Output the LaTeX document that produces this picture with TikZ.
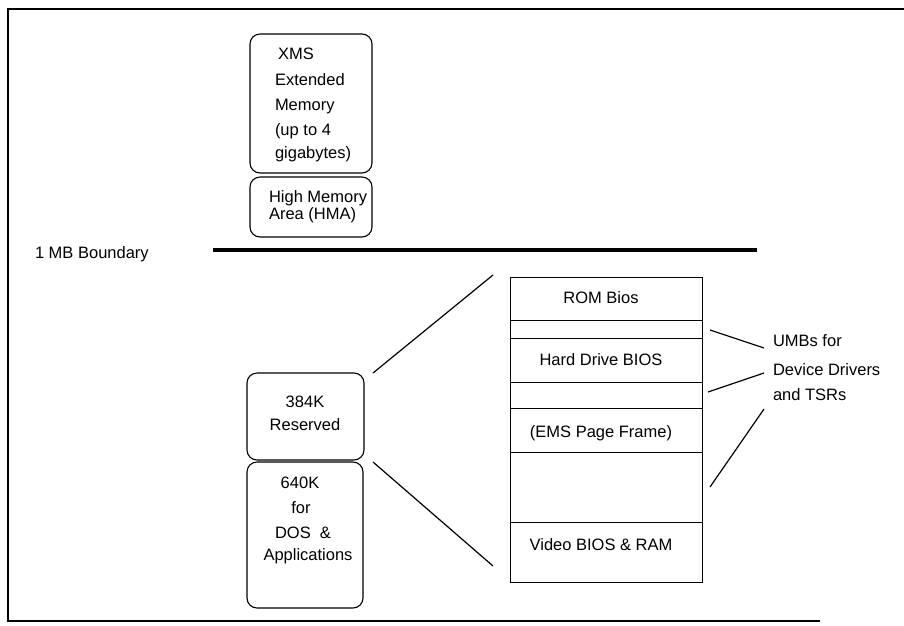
\documentclass[tikz,border=0pt]{standalone}
\usepackage{fontspec}
\setmainfont{Liberation Sans}
\begin{document}
\begin{tikzpicture}[x=1pt,y=-1pt,
  font=\fontsize{16.5}{19}\selectfont,
  rbox/.style={draw, rounded corners=10pt, line width=1.1pt, inner sep=0pt, outer sep=0pt},
  memrow/.style={draw, line width=1pt, minimum width=192pt, inner sep=0pt, outer sep=0pt},
  lbl/.style={inner sep=0pt, outer sep=0pt},
  conn/.style={line width=1.2pt},
  frameline/.style={line width=1.6pt}]
\useasboundingbox (0,0) rectangle (904,625);

% frame (open on the right)
\coordinate (f1) at (904,9);
\coordinate (f2) at (8,9);
\coordinate (f3) at (8,621);
\coordinate (f4) at (820,621);
\draw[frameline] (f1) -- (f2) -- (f3) -- (f4);

% extended memory boxes
\node[rbox, minimum width=122pt, minimum height=139pt] (xms) at (311,103.5) {};
\node[rbox, minimum width=122pt, minimum height=60pt] (hma) at (311,207) {};
\node[lbl, anchor=base west] (t1) at (278,59) {XMS};
\node[lbl, anchor=base west] (t2) at (275,85) {Extended};
\node[lbl, anchor=base west] (t3) at (275,110) {Memory};
\node[lbl, anchor=base west] (t4) at (275,135) {(up to 4};
\node[lbl, anchor=base west] (t5) at (275,158) {gigabytes)};
\node[lbl, anchor=base west] (t6) at (269,202) {High Memory};
\node[lbl, anchor=base west] (t7) at (269,219) {Area (HMA)};

% 1 MB boundary
\node[lbl, anchor=base west] (mb) at (35,258) {1 MB Boundary};
\coordinate (b1) at (213,250);
\coordinate (b2) at (757,250);
\draw[line width=3.5pt] (b1) -- (b2);

% conventional memory boxes
\node[rbox, minimum width=117pt, minimum height=87pt] (res) at (305.5,416.5) {};
\node[rbox, minimum width=116pt, minimum height=146pt] (dos) at (305,535) {};
\node[lbl, anchor=base] (r1) at (305,407) {384K};
\node[lbl, anchor=base] (r2) at (305,430) {Reserved};
\node[lbl, anchor=base] (d1) at (300,488) {640K};
\node[lbl, anchor=base] (d2) at (301,513) {for};
\node[lbl, anchor=base] (d3) at (303,538) {DOS\ \ \&};
\node[lbl, anchor=base] (d4) at (308,560) {Applications};

% upper memory stack
\node[memrow, minimum height=43pt] (rom) at (606,298.5) {};
\node[memrow, minimum height=18pt] (u1) at (606,329) {};
\node[memrow, minimum height=44pt] (hd) at (606,360) {};
\node[memrow, minimum height=26pt] (u2) at (606,395) {};
\node[memrow, minimum height=44pt] (ems) at (606,430) {};
\node[memrow, minimum height=70pt] (u3) at (606,487) {};
\node[memrow, minimum height=60pt] (vid) at (606,552) {};
\node[lbl, anchor=base] (s1) at (601,303) {ROM Bios};
\node[lbl, anchor=base] (s2) at (601,365) {Hard Drive BIOS};
\node[lbl, anchor=base] (s3) at (601,437) {(EMS Page Frame)};
\node[lbl, anchor=base] (s4) at (601,550) {Video BIOS \& RAM};

% expansion lines
\coordinate (e1) at (373,373);
\coordinate (e2) at (493,275);
\coordinate (e3) at (373,462);
\coordinate (e4) at (493,566);
\draw[conn] (e1) -- (e2);
\draw[conn] (e3) -- (e4);

% UMB label and pointers
\node[lbl, anchor=base west] (m1) at (773,346) {UMBs for};
\node[lbl, anchor=base west] (m2) at (773,375) {Device Drivers};
\node[lbl, anchor=base west] (m3) at (773,400) {and TSRs};
\coordinate (p1a) at (710,330);
\coordinate (p1b) at (764,348);
\coordinate (p2a) at (708,392);
\coordinate (p2b) at (764,373);
\coordinate (p3a) at (710,487);
\coordinate (p3b) at (764,409);
\draw[conn] (p1a) -- (p1b);
\draw[conn] (p2a) -- (p2b);
\draw[conn] (p3a) -- (p3b);
\end{tikzpicture}
\end{document}
